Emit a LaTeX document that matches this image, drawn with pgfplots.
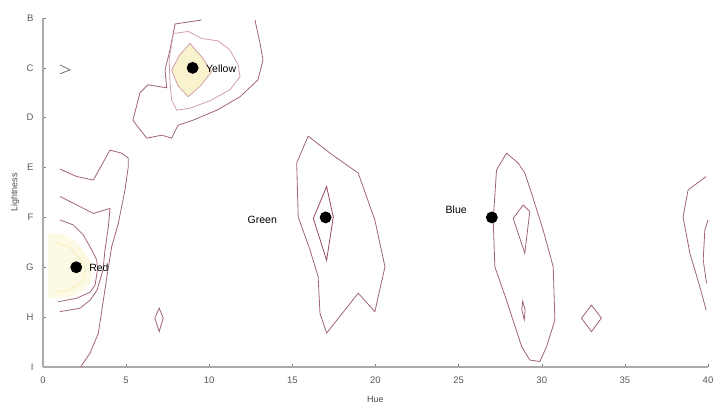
\documentclass[border=0pt]{standalone}
\usepackage{fontspec}
\setmainfont{Liberation Sans}
\usepackage{pgfplots}
\pgfplotsset{compat=1.18}
\definecolor{cdark}{RGB}{160,100,115}
\definecolor{clight}{RGB}{210,160,168}
\definecolor{cgreen}{RGB}{150,75,95}
\definecolor{yfill}{RGB}{248,243,205}
\definecolor{yfillr}{RGB}{252,250,228}
\definecolor{yring}{RGB}{247,242,200}
\definecolor{axgray}{RGB}{170,170,170}

\begin{document}
\begin{tikzpicture}
\begin{axis}[
    name=ax, at={(0,0)}, anchor=south west,
    scale only axis, width=665pt, height=349pt,
    xmin=0, xmax=40, ymin=1, ymax=8,
    axis lines=left,
    axis line style={-, draw=axgray, line width=1.3pt},
    tick align=inside, major tick length=3pt,
    tick style={draw=gray, line width=0.5pt},
    xtick={0,5,...,40},
    ytick={1,...,8},
    yticklabels={I,H,G,F,E,D,C,B},
    ticklabel style={font=\fontsize{9.5}{11}\selectfont, text=black!65},
    xticklabel style={yshift=-6pt},
    yticklabel style={xshift=-6pt},
    /pgf/number format/assume math mode=true,
    xlabel={Hue}, ylabel={Lightness},
    label style={font=\fontsize{9}{10}\selectfont, text=black!70},
    xlabel style={at={(axis description cs:0.5,0)}, anchor=center, yshift=-32pt},
    ylabel style={at={(axis description cs:-0.042,0.5)}, anchor=center},
    every axis plot/.append style={line width=0.8pt},
]
% ---- Yellow ----
\addplot[draw=cdark] coordinates {(9.54,7.96) (7.94,7.88) (7.64,7.36) (7.34,6.96) (7.44,6.60) (6.31,6.66) (5.83,6.50) (5.41,5.95) (5.63,5.85) (6.24,5.59) (7.14,5.65) (7.74,5.59) (8.12,5.85) (9.02,5.95) (10.45,6.15) (11.85,6.42) (12.93,6.76) (13.23,7.16) (13.05,7.50) (12.75,7.96)};
\addplot[draw=clight] coordinates {(7.84,7.69) (8.74,7.73) (9.54,7.59) (10.54,7.54) (11.24,7.36) (11.74,7.06) (11.85,6.82) (11.24,6.56) (10.04,6.34) (8.84,6.19) (8.04,6.15) (7.74,6.36) (7.64,6.69) (7.59,7.16) (7.74,7.49)} -- cycle;
\addplot[draw=clight, fill=yfill] coordinates {(8.84,7.49) (9.6,7.2) (10.14,6.92) (9.5,6.65) (8.74,6.42) (8.1,6.65) (7.74,6.96) (8.2,7.25)} -- cycle;
\addplot[draw=black!55] coordinates {(1.02,7.06) (1.62,6.96) (1.02,6.88)};
% ---- Red ----
\addplot[draw=none, fill=yfillr] coordinates {(0.3,3.7) (1.3,3.65) (2.2,3.45) (2.8,3.15) (3.0,2.95) (2.8,2.65) (2.1,2.45) (1.2,2.38) (0.3,2.38)} -- cycle;
\addplot[draw=yring, line width=1.5pt] coordinates {(0.8,3.5) (1.6,3.4) (2.3,3.15) (2.55,2.95) (2.3,2.7) (1.6,2.55) (0.8,2.5)};
\addplot[draw=cdark] coordinates {(1.02,4.97) (2.03,4.82) (3.03,4.75) (4.03,5.35) (4.73,5.29) (5.13,5.19) (5.13,5.02) (4.93,4.55) (4.53,3.88) (4.13,3.41) (3.91,2.95) (3.63,2.34) (3.33,1.68) (2.83,1.28) (2.26,1.0)};
\addplot[draw=cdark] coordinates {(1.02,4.42) (2.03,4.25) (3.03,4.08) (4.03,4.18) (3.93,3.81) (3.73,3.35) (3.61,2.95) (3.25,2.54) (2.83,2.34) (2.23,2.18) (1.02,2.11)};
\addplot[draw=cdark] coordinates {(1.02,3.95) (1.82,3.85) (2.42,3.65) (2.93,3.35) (3.23,3.15) (3.28,2.95) (3.13,2.64) (2.83,2.50) (2.03,2.38) (0.92,2.31)};
\addplot[draw=cdark] coordinates {(6.99,2.18) (7.23,1.98) (6.99,1.71) (6.73,1.98)} -- cycle;
% ---- Green ----
\addplot[draw=cdark] coordinates {(15.95,5.63) (15.26,5.09) (15.35,4.01) (16.06,3.35) (16.55,2.81) (16.66,2.08) (17.06,1.68) (18.96,2.48) (19.96,2.11) (20.57,3.01) (19.96,3.95) (18.96,4.89) (17.26,5.29)} -- cycle;
\addplot[draw=cgreen] coordinates {(17.06,4.62) (17.46,4.01) (17.06,3.14) (16.26,3.98)} -- cycle;
% ---- Blue ----
\addplot[draw=cdark] coordinates {(27.88,5.29) (27.28,4.95) (27.08,3.95) (27.18,3.01) (27.88,2.34) (28.79,1.41) (29.28,1.14) (29.89,1.11) (30.29,1.41) (30.79,1.94) (30.69,3.01) (30.08,3.75) (29.39,4.48) (28.98,4.89) (28.58,5.09)} -- cycle;
\addplot[draw=cdark] coordinates {(28.88,4.25) (29.28,4.12) (28.98,3.28) (28.28,3.98)} -- cycle;
\addplot[draw=cdark] coordinates {(28.85,2.32) (29.0,2.15) (28.95,1.95) (28.8,2.15)} -- cycle;
\addplot[draw=cdark] coordinates {(32.99,2.24) (33.59,1.98) (32.99,1.71) (32.39,1.98)} -- cycle;
% ---- right edge ----
\addplot[draw=cdark] coordinates {(39.89,4.82) (38.80,4.55) (38.50,4.01) (38.91,3.28) (39.51,2.61) (39.89,2.14)};
\addplot[draw=cdark] coordinates {(40.0,3.95) (39.81,3.75) (39.71,3.15) (39.91,2.68)};
% ---- colour centres ----
\addplot[only marks, mark=*, mark size=5.5pt, black] coordinates {(9,7) (2,3) (17,4) (27,4)};
\node[anchor=west, font=\fontsize{10.5}{12}\selectfont, inner sep=1pt] at (axis cs:9.74,6.98) {Yellow};
\node[anchor=west, font=\fontsize{10.5}{12}\selectfont, inner sep=1pt] at (axis cs:2.71,2.99) {Red};
\node[anchor=east, font=\fontsize{10.5}{12}\selectfont, inner sep=1pt] at (axis cs:14.14,3.95) {Green};
\node[anchor=east, font=\fontsize{10.5}{12}\selectfont, inner sep=1pt] at (axis cs:25.56,4.15) {Blue};
\end{axis}
\pgfresetboundingbox
\path[use as bounding box] (-43pt,-38pt) rectangle (672pt,367pt);
\end{tikzpicture}
\end{document}
